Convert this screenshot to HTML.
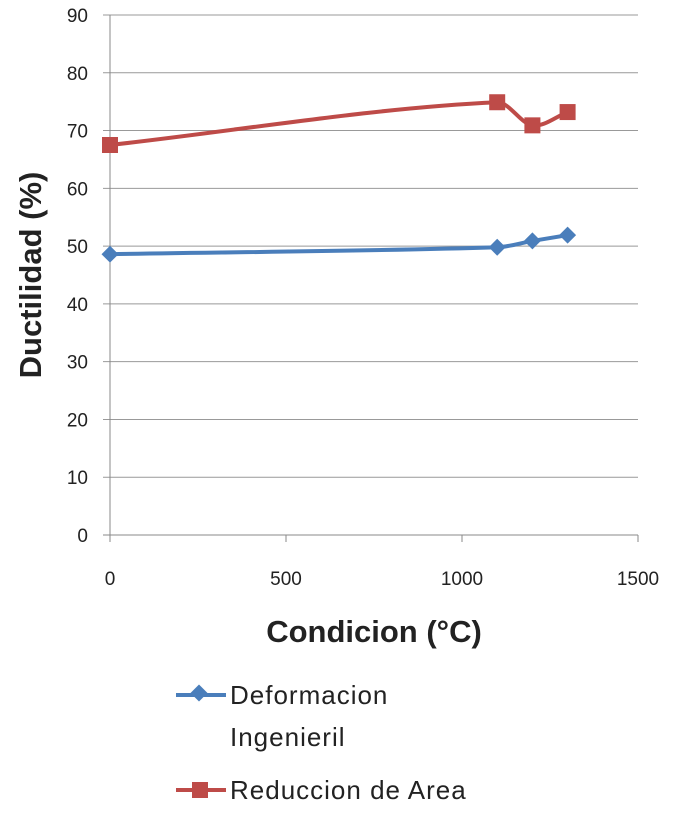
<!DOCTYPE html>
<html><head><meta charset="utf-8"><style>
body{margin:0;background:#fff;}
svg text{font-family:"Liberation Sans",sans-serif;fill:#222;}
</style></head><body>
<svg width="677" height="825">
<g id="grid"></g><g id="axes"></g><g id="series"></g>
<text x="0" y="0" transform="translate(41,275) rotate(-90)" text-anchor="middle" font-size="31" font-weight="bold">Ductilidad (%)</text>
<text x="374" y="642" text-anchor="middle" font-size="31" font-weight="bold">Condicion (°C)</text>
<g>
<g>
<line x1="176" y1="695" x2="226" y2="695" stroke="#4a7ebb" stroke-width="4"/>
<rect x="193" y="687" width="12" height="12" fill="#4a7ebb" transform="rotate(45 199 693)"/>
<text x="230" y="704" font-size="26" letter-spacing="1">Deformacion</text>
<text x="230" y="746" font-size="26" letter-spacing="1">Ingenieril</text></g>
<g>
<line x1="176" y1="790" x2="226" y2="790" stroke="#be4b48" stroke-width="4"/>
<rect x="192" y="782" width="16" height="16" fill="#be4b48"/>
<text x="230" y="799" font-size="26" letter-spacing="1">Reduccion de Area</text></g>
</g>
</svg>
<script>
const xVals=[0,1100,1200,1300];
const deformacion=[48.6,49.8,50.9,51.9];
const reduccion=[67.5,74.9,70.9,73.2];
const yTicks=[0,10,20,30,40,50,60,70,80,90];
const xTicks=[0,500,1000,1500];
const NS="http://www.w3.org/2000/svg";
const X=v=>110+v*(528/1500), Y=v=>535-v*(520/90);
function mk(t,a,p){const e=document.createElementNS(NS,t);for(const k in a)e.setAttribute(k,a[k]);p.appendChild(e);return e;}
const grid=document.getElementById('grid'),axes=document.getElementById('axes'),ser=document.getElementById('series');
yTicks.forEach(v=>{
 const l=mk('line',{x1:103,x2:638,y1:Y(v),y2:Y(v),stroke:v===0?'#888':'#999','stroke-width':1},grid);
 
 
 const t=mk('text',{x:88,y:Y(v)+7,'text-anchor':'end','font-size':19},axes);t.textContent=v;
 
 
});
const ya=mk('line',{x1:110,x2:110,y1:Y(90),y2:542,stroke:'#888'},axes);


xTicks.forEach(v=>{
 mk('line',{x1:X(v),x2:X(v),y1:535,y2:542,stroke:'#888'},axes);
 const t=mk('text',{x:X(v),y:585,'text-anchor':'middle','font-size':19},axes);t.textContent=v;
 
 
});
function smooth(pts){
 const n=pts.length,m=[];
 for(let i=0;i<n;i++){const a=pts[Math.max(i-1,0)],b=pts[Math.min(i+1,n-1)];m.push((b[1]-a[1])/(b[0]-a[0]));}
 let d=`M${pts[0][0]},${pts[0][1]}`;
 for(let i=0;i<n-1;i++){const p1=pts[i],p2=pts[i+1],h=(p2[0]-p1[0])/3;
  d+=` C${p1[0]+h},${p1[1]+m[i]*h} ${p2[0]-h},${p2[1]-m[i+1]*h} ${p2[0]},${p2[1]}`;}
 return d;}
function draw(vals,color,shape,name){
 const pts=xVals.map((x,i)=>[X(x),Y(vals[i])]);
 const p=mk('path',{d:smooth(pts),fill:'none',stroke:color,'stroke-width':4},ser);
 
 
 pts.forEach(([x,y])=>{let m;
  if(shape==='sq')m=mk('rect',{x:x-8,y:y-8,width:16,height:16,fill:color},ser);
  else m=mk('rect',{x:x-6,y:y-6,width:12,height:12,fill:color,transform:`rotate(45 ${x} ${y})`},ser);
  
  
 });}
draw(deformacion,'#4a7ebb','dia','deformacion');
draw(reduccion,'#be4b48','sq','reduccion');
</script>
</body></html>
